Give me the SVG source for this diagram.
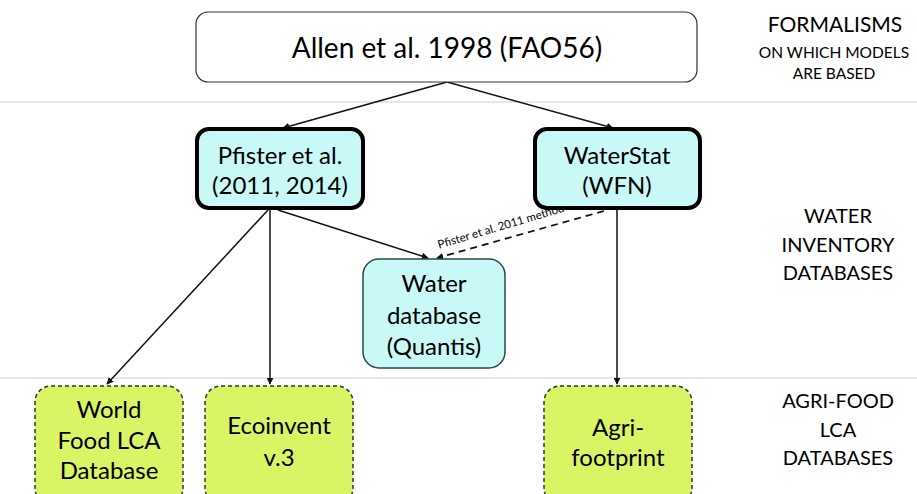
<svg xmlns="http://www.w3.org/2000/svg" width="917" height="494" viewBox="0 0 917 494">
<style>
  text { font-family: Lato, "Open Sans", "Liberation Sans", sans-serif; fill: #000; text-anchor: middle; }
  .sep { stroke: #e8e8e8; stroke-width: 2; }
  .top { fill: #fff; stroke: #333; stroke-width: 1.2; }
  .water { fill: #c8f9f6; stroke: #000; stroke-width: 4; }
  .quantis { fill: #c8f9f6; stroke: #2a4a48; stroke-width: 1.5; }
  .agri { fill: #d9f566; stroke: #333; stroke-width: 1.5; stroke-dasharray: 4 3; }
  .conn { stroke: #111; stroke-width: 1.5; fill: none; marker-end: url(#ah); }
  .dash { stroke-dasharray: 7 5; stroke-width: 1.8; }
  .node { font-size: 24px; }
  .side { font-size: 20px; }
</style>
<defs>
  <marker id="ah" viewBox="0 0 10 10" refX="9" refY="5" markerWidth="7" markerHeight="7" markerUnits="userSpaceOnUse" orient="auto">
    <path d="M0,0 L10,5 L0,10 z" fill="#111"/>
  </marker>
</defs>
<rect width="917" height="494" fill="#fff"/>
<line class="sep" x1="0" y1="102" x2="917" y2="102"/>
<line class="sep" x1="0" y1="378" x2="917" y2="378"/>

<g id="labels">
  <text x="835" y="32" style="font-size:21px">FORMALISMS</text>
  <text x="834" y="58" style="font-size:15.5px">ON WHICH MODELS</text>
  <text x="834" y="79" style="font-size:15.5px">ARE BASED</text>
  <text class="side" x="838" y="223">WATER</text>
  <text class="side" x="838" y="252">INVENTORY</text>
  <text class="side" x="838" y="280">DATABASES</text>
  <text class="side" x="838" y="408">AGRI-FOOD</text>
  <text class="side" x="838" y="437">LCA</text>
  <text class="side" x="838" y="465">DATABASES</text>
</g>

<g id="connectors">
  <line class="conn" x1="447" y1="82" x2="283" y2="128"/>
  <line class="conn" x1="447" y1="82" x2="613" y2="128"/>
  <line class="conn" x1="268" y1="210" x2="107" y2="384"/>
  <line class="conn" x1="270" y1="210" x2="270" y2="384"/>
  <line class="conn" x1="278" y1="210" x2="428" y2="258"/>
  <line class="conn" x1="617" y1="210" x2="617" y2="384"/>
  <line class="conn dash" x1="604" y1="211" x2="437" y2="258"/>
  <text x="502" y="230" transform="rotate(-16.5 502 230)" style="font-size:11.5px">Pfister et al. 2011 method</text>
</g>

<g id="allen">
  <rect class="top" x="196" y="12" width="501" height="70" rx="12"/>
  <text x="447" y="58" style="font-size:28px">Allen et al. 1998 (FAO56)</text>
</g>

<g id="pfister">
  <rect class="water" x="197" y="129" width="166" height="79" rx="12"/>
  <text class="node" x="280" y="164">Pfister et al.</text>
  <text class="node" x="280" y="194">(2011, 2014)</text>
</g>

<g id="waterstat">
  <rect class="water" x="535" y="129" width="165" height="79" rx="12"/>
  <text class="node" x="617" y="164">WaterStat</text>
  <text class="node" x="617" y="194">(WFN)</text>
</g>

<g id="quantis">
  <rect class="quantis" x="363" y="259" width="142" height="109" rx="16"/>
  <text class="node" x="434" y="292">Water</text>
  <text class="node" x="434" y="324">database</text>
  <text class="node" x="434" y="355">(Quantis)</text>
</g>

<g id="worldfood">
  <rect class="agri" x="35" y="386" width="148" height="118" rx="16"/>
  <text class="node" x="109" y="418">World</text>
  <text class="node" x="109" y="449">Food LCA</text>
  <text class="node" x="109" y="479">Database</text>
</g>

<g id="ecoinvent">
  <rect class="agri" x="205" y="386" width="148" height="118" rx="16"/>
  <text class="node" x="279" y="434">Ecoinvent</text>
  <text class="node" x="279" y="466">v.3</text>
</g>

<g id="agrifootprint">
  <rect class="agri" x="544" y="386" width="148" height="118" rx="16"/>
  <text class="node" x="618" y="436">Agri-</text>
  <text class="node" x="618" y="466">footprint</text>
</g>
</svg>
